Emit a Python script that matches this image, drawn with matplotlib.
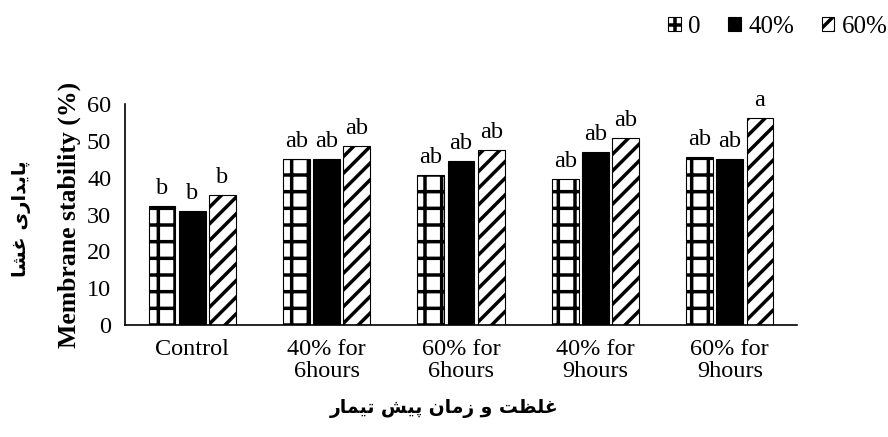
import numpy as np
import matplotlib
matplotlib.use("Agg")
import matplotlib.pyplot as plt

plt.rcParams['font.family'] = ['Liberation Serif', 'DejaVu Serif']
plt.rcParams['hatch.linewidth'] = 2.5

# data
groups = ['Control', '40% for\n6hours', '60% for\n6hours', '40% for\n9hours', '60% for\n9hours']
series = ['0', '40%', '60%']
vals_0 = [32.3, 45.2, 40.8, 39.6, 45.7]
vals_40 = [31.0, 45.0, 44.6, 47.1, 45.0]
vals_60 = [35.3, 48.5, 47.6, 50.9, 56.2]
let_0 = ['b', 'ab', 'ab', 'ab', 'ab']
let_40 = ['b', 'ab', 'ab', 'ab', 'ab']
let_60 = ['b', 'ab', 'ab', 'ab', 'a']


def vis(words):
    # words given in logical order as lists of shaped glyphs -> visual LTR string
    return ' '.join(''.join(reversed(w)) for w in reversed(words))


# پایداری غشا (presentation forms)
ylab_fa = vis([['\uFB58', '\uFE8E', '\uFBFE', '\uFEAA', '\uFE8D', '\uFEAD', '\uFBFC'],
               ['\uFECF', '\uFEB8', '\uFE8E']])
# غلظت و زمان پیش تیمار
xlab_fa = vis([['\uFECF', '\uFEE0', '\uFEC8', '\uFE96'],
               ['\uFEED'],
               ['\uFEAF', '\uFEE3', '\uFE8E', '\uFEE5'],
               ['\uFB58', '\uFBFF', '\uFEB6'],
               ['\uFE97', '\uFBFF', '\uFEE4', '\uFE8E', '\uFEAD']])

fig = plt.figure(figsize=(8.88, 4.37), dpi=100)
ax = fig.add_axes([0.1408, 0.2563, 0.7567, 0.5057])

x = np.arange(len(groups))
w = 0.2
step = 0.225
b0 = ax.bar(x - step, vals_0, w, color='white', edgecolor='black', hatch='+', linewidth=0.8, label=series[0])
b1 = ax.bar(x, vals_40, w, color='black', edgecolor='black', linewidth=0.8, label=series[1])
b2 = ax.bar(x + step, vals_60, w, color='white', edgecolor='black', hatch='//', linewidth=0.8, label=series[2])

for bars, labs in [(b0, let_0), (b1, let_40), (b2, let_60)]:
    for r, t in zip(bars, labs):
        ax.annotate(t, (r.get_x() + r.get_width() / 2, r.get_height()),
                    xytext=(0, 5), textcoords='offset points',
                    ha='center', va='bottom', fontsize=17.5)

ax.set_xlim(-0.5, 4.5)
ax.set_ylim(0, 60)
ax.set_yticks(np.arange(0, 61, 10))
ax.set_xticks(x)
ax.set_xticklabels(groups, fontsize=17.5, linespacing=1.05)
ax.tick_params(axis='y', labelsize=17.5, length=0, pad=10)
ax.tick_params(axis='x', length=0, pad=10)
ax.spines['top'].set_visible(False)
ax.spines['right'].set_visible(False)
ax.spines['left'].set_linewidth(1.2)
ax.spines['bottom'].set_linewidth(1.2)

ax.set_ylabel('Membrane stability (%)', fontsize=18.5, fontweight='bold', labelpad=4)
fig.text(0.024, 0.5, ylab_fa, rotation=90, ha='center', va='center',
         fontsize=14, fontweight='bold', family=['DejaVu Sans'])
fig.text(0.5, 0.066, xlab_fa, ha='center', va='center',
         fontsize=13.5, fontweight='bold', family=['DejaVu Sans'])

fig.legend(loc='upper right', bbox_to_anchor=(1.025, 1.015), ncol=3, frameon=False,
           fontsize=18, handlelength=0.5, handleheight=0.5, handletextpad=0.3,
           columnspacing=1.1)

fig.savefig('out.png', dpi=100)
